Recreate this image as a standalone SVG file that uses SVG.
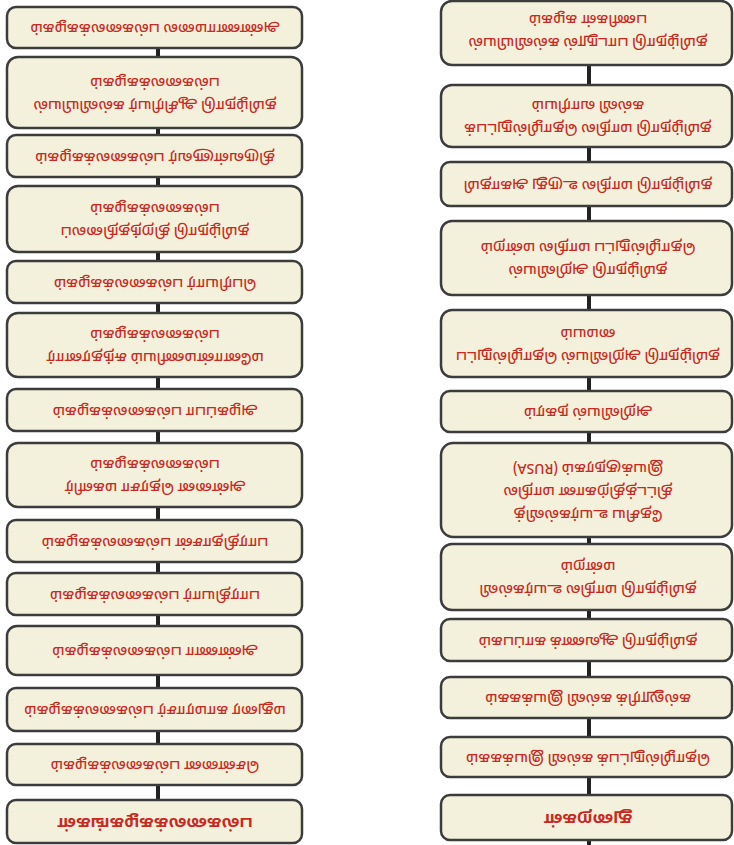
<svg xmlns="http://www.w3.org/2000/svg" width="734" height="845" viewBox="0 0 734 845">
<style>
.bg{fill:#ffffff}
.box{fill:#f3f0db;stroke:#3c3c3c;stroke-width:2.5}
.t{font-family:'Noto Sans Tamil','Noto Sans','DejaVu Sans',sans-serif;font-size:14px;font-weight:500;fill:#c62a22;text-anchor:middle;dominant-baseline:central}
.h{font-size:16px;font-weight:bold}
.c{stroke:#222222;stroke-width:4}
</style>
<rect class="bg" x="0" y="0" width="734" height="845"/>
<g id="connectors">
<line class="c" x1="158" y1="48" x2="158" y2="57"/>
<line class="c" x1="158" y1="128" x2="158" y2="135"/>
<line class="c" x1="158" y1="177" x2="158" y2="186"/>
<line class="c" x1="158" y1="252" x2="158" y2="261"/>
<line class="c" x1="158" y1="303" x2="158" y2="313"/>
<line class="c" x1="158" y1="377" x2="158" y2="389"/>
<line class="c" x1="158" y1="431" x2="158" y2="443"/>
<line class="c" x1="158" y1="507" x2="158" y2="520"/>
<line class="c" x1="158" y1="562" x2="158" y2="573"/>
<line class="c" x1="158" y1="615" x2="158" y2="626"/>
<line class="c" x1="158" y1="675" x2="158" y2="688"/>
<line class="c" x1="158" y1="731" x2="158" y2="744"/>
<line class="c" x1="158" y1="785" x2="158" y2="800"/>
<line class="c" x1="589" y1="65" x2="589" y2="85"/>
<line class="c" x1="589" y1="147" x2="589" y2="162"/>
<line class="c" x1="589" y1="206" x2="589" y2="221"/>
<line class="c" x1="589" y1="295" x2="589" y2="310"/>
<line class="c" x1="589" y1="377" x2="589" y2="391"/>
<line class="c" x1="589" y1="432" x2="589" y2="443"/>
<line class="c" x1="589" y1="537" x2="589" y2="544"/>
<line class="c" x1="589" y1="610" x2="589" y2="619"/>
<line class="c" x1="589" y1="661" x2="589" y2="677"/>
<line class="c" x1="589" y1="718" x2="589" y2="737"/>
<line class="c" x1="589" y1="777" x2="589" y2="795"/>
<line class="c" x1="589" y1="840" x2="589" y2="845"/>
</g>
<g id="L1"><rect class="box" x="7" y="7" width="295" height="41" rx="9"/>
<text class="t" x="155" y="27.5" transform="rotate(180 155 27.5)">அண்ணாமலை பல்கலைக்கழகம்</text></g>
<g id="L2"><rect class="box" x="7" y="57" width="295" height="71" rx="11"/>
<g transform="rotate(180 155 92.5)"><text class="t" x="155" y="81">தமிழ்நாடு ஆசிரியர் கல்வியியல்</text><text class="t" x="155" y="104">பல்கலைக்கழகம்</text></g></g>
<g id="L3"><rect class="box" x="7" y="135" width="295" height="42" rx="9"/>
<text class="t" x="155" y="156" transform="rotate(180 155 156)">திருவள்ளுவர் பல்கலைக்கழகம்</text></g>
<g id="L4"><rect class="box" x="7" y="186" width="295" height="66" rx="11"/>
<g transform="rotate(180 155 219)"><text class="t" x="155" y="207.5">தமிழ்நாடு திறந்தநிலைப்</text><text class="t" x="155" y="230.5">பல்கலைக்கழகம்</text></g></g>
<g id="L5"><rect class="box" x="7" y="261" width="295" height="42" rx="9"/>
<text class="t" x="155" y="282" transform="rotate(180 155 282)">பெரியார் பல்கலைக்கழகம்</text></g>
<g id="L6"><rect class="box" x="7" y="313" width="295" height="64" rx="11"/>
<g transform="rotate(180 155 345)"><text class="t" x="155" y="333.5">மனோன்மணியம் சுந்தரனார்</text><text class="t" x="155" y="356.5">பல்கலைக்கழகம்</text></g></g>
<g id="L7"><rect class="box" x="7" y="389" width="295" height="42" rx="9"/>
<text class="t" x="155" y="410" transform="rotate(180 155 410)">அழகப்பா பல்கலைக்கழகம்</text></g>
<g id="L8"><rect class="box" x="7" y="443" width="295" height="64" rx="11"/>
<g transform="rotate(180 155 475)"><text class="t" x="155" y="463.5">அன்னை தெரசா மகளிர்</text><text class="t" x="155" y="486.5">பல்கலைக்கழகம்</text></g></g>
<g id="L9"><rect class="box" x="7" y="520" width="295" height="42" rx="9"/>
<text class="t" x="155" y="541" transform="rotate(180 155 541)">பாரதிதாசன் பல்கலைக்கழகம்</text></g>
<g id="L10"><rect class="box" x="7" y="573" width="295" height="42" rx="9"/>
<text class="t" x="155" y="594" transform="rotate(180 155 594)">பாரதியார் பல்கலைக்கழகம்</text></g>
<g id="L11"><rect class="box" x="7" y="626" width="295" height="49" rx="10"/>
<text class="t" x="155" y="650.5" transform="rotate(180 155 650.5)">அண்ணா பல்கலைக்கழகம்</text></g>
<g id="L12"><rect class="box" x="7" y="688" width="295" height="43" rx="9"/>
<text class="t" x="155" y="709.5" transform="rotate(180 155 709.5)">மதுரை காமராசர் பல்கலைக்கழகம்</text></g>
<g id="L13"><rect class="box" x="7" y="744" width="295" height="41" rx="9"/>
<text class="t" x="155" y="764.5" transform="rotate(180 155 764.5)">சென்னை பல்கலைக்கழகம்</text></g>
<g id="L14"><rect class="box" x="7" y="800" width="295" height="43" rx="9"/>
<text class="t h" x="155" y="821.5" transform="rotate(180 155 821.5)">பல்கலைக்கழகங்கள்</text></g>
<g id="R1"><rect class="box" x="441" y="1" width="291" height="64" rx="11"/>
<g transform="rotate(180 588 30)"><text class="t" x="588" y="18.5">தமிழ்நாடு பாடநூல் கல்வியியல்</text><text class="t" x="588" y="41.5">பணிகள் கழகம்</text></g></g>
<g id="R2"><rect class="box" x="441" y="85" width="291" height="62" rx="11"/>
<g transform="rotate(180 588 116)"><text class="t" x="588" y="104.5">தமிழ்நாடு மாநில தொழில்நுட்பக்</text><text class="t" x="588" y="127.5">கல்வி வாரியம்</text></g></g>
<g id="R3"><rect class="box" x="441" y="162" width="291" height="44" rx="9"/>
<text class="t" x="588" y="184" transform="rotate(180 588 184)">தமிழ்நாடு மாநில உருது அகாதமி</text></g>
<g id="R4"><rect class="box" x="441" y="221" width="291" height="74" rx="11"/>
<g transform="rotate(180 588 258)"><text class="t" x="588" y="246.5">தமிழ்நாடு அறிவியல்</text><text class="t" x="588" y="269.5">தொழில்நுட்ப மாநில மன்றம்</text></g></g>
<g id="R5"><rect class="box" x="441" y="310" width="291" height="67" rx="11"/>
<g transform="rotate(180 588 343.5)"><text class="t" x="588" y="332">தமிழ்நாடு அறிவியல் தொழில்நுட்ப</text><text class="t" x="588" y="355">மையம்</text></g></g>
<g id="R6"><rect class="box" x="441" y="391" width="291" height="41" rx="9"/>
<text class="t" x="588" y="411.5" transform="rotate(180 588 411.5)">அறிவியல் நகரம்</text></g>
<g id="R7"><rect class="box" x="441" y="443" width="291" height="94" rx="12"/>
<g transform="rotate(180 588 490)"><text class="t" x="588" y="467">தேசிய உயர்கல்வித்</text><text class="t" x="588" y="490">திட்டத்திற்கான மாநில</text><text class="t" x="588" y="513">இயக்குநரகம் (RUSA)</text></g></g>
<g id="R8"><rect class="box" x="441" y="544" width="291" height="66" rx="11"/>
<g transform="rotate(180 588 577)"><text class="t" x="588" y="565.5">தமிழ்நாடு மாநில உயர்கல்வி</text><text class="t" x="588" y="588.5">மன்றம்</text></g></g>
<g id="R9"><rect class="box" x="441" y="619" width="291" height="42" rx="9"/>
<text class="t" x="588" y="640" transform="rotate(180 588 640)">தமிழ்நாடு ஆவணக் காப்பகம்</text></g>
<g id="R10"><rect class="box" x="441" y="677" width="291" height="41" rx="9"/>
<text class="t" x="588" y="697.5" transform="rotate(180 588 697.5)">கல்லூரிக் கல்வி இயக்ககம்</text></g>
<g id="R11"><rect class="box" x="441" y="737" width="291" height="40" rx="9"/>
<text class="t" x="588" y="757" transform="rotate(180 588 757)">தொழில்நுட்பக் கல்வி இயக்ககம்</text></g>
<g id="R12"><rect class="box" x="441" y="795" width="291" height="45" rx="9"/>
<text class="t h" x="588" y="817.5" transform="rotate(180 588 817.5)">துறைகள்</text></g>
</svg>
